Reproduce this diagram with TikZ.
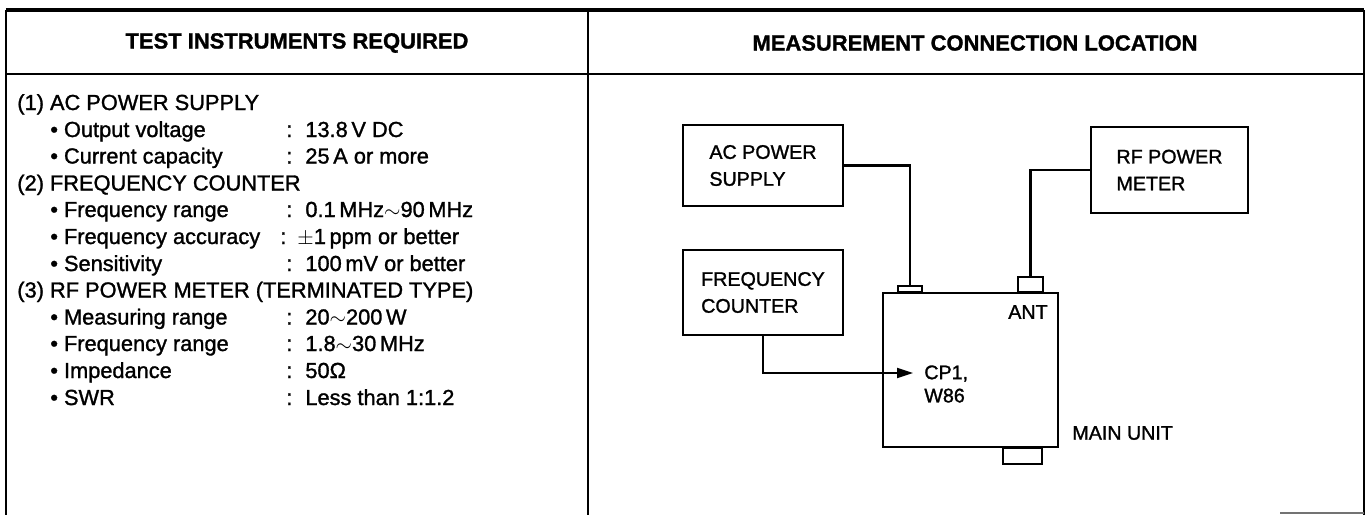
\documentclass[tikz,border=0pt]{standalone}
\usepackage{fontspec}
\setmainfont{Liberation Sans}[RawFeature={embolden=1.3}]
\usepackage{tikz}
\usetikzlibrary{positioning,calc,arrows.meta}
\tikzset{
  headtxt/.style={font=\fontsize{12.5}{15}\selectfont\bfseries},
  itemtxt/.style={anchor=base west, inner sep=0pt, font=\fontsize{12.4}{14}\selectfont},
  instbox/.style={draw, line width=1.3pt, align=left, inner sep=0pt,
                  font=\fontsize{11.2}{15.3}\selectfont},
  jackbox/.style={draw, line width=1.3pt, inner sep=0pt},
  unittxt/.style={inner sep=0pt, font=\fontsize{11.2}{13.2}\selectfont},
  wire/.style={line width=1.2pt},
}

\begin{document}
\begin{tikzpicture}
  \useasboundingbox (0,0) rectangle (27.32,-10.30);
  % table frame
  \draw[line width=2pt] (0.12,-0.20) -- (27.28,-0.20);
  \draw[line width=1.5pt] (0.12,-1.48) -- (27.28,-1.48);
  \draw[line width=1.4pt] (0.12,-0.20) -- (0.12,-10.30);
  \draw[line width=1.3pt] (11.76,-0.20) -- (11.76,-10.30);
  \draw[line width=1.3pt] (27.28,-0.20) -- (27.28,-10.30);
  \draw[line width=0.8pt, black!55] (25.60,-10.26) -- (27.28,-10.26);
  \node[headtxt] (hdleft) at (5.94,-0.86) {TEST INSTRUMENTS REQUIRED};
  \node[headtxt] (hdright) at (19.50,-0.86) {MEASUREMENT CONNECTION LOCATION};

  % (1) power supply
  \node[itemtxt] (ac) at (0.34,-2.20) {(1) AC POWER SUPPLY};
  \node[itemtxt] (acvolt) at (1.00,-2.74) {\textbullet\ Output voltage};
  \node[itemtxt] (acvoltv) at (5.72,-2.74) {:\hspace{0.26cm}13.8\,V DC};
  \node[itemtxt] (accur) at (1.00,-3.27) {\textbullet\ Current capacity};
  \node[itemtxt] (accurv) at (5.72,-3.27) {:\hspace{0.26cm}25\,A or more};
  % (2) frequency counter
  \node[itemtxt] (fc) at (0.34,-3.81) {(2) FREQUENCY COUNTER};
  \node[itemtxt] (fcrange) at (1.00,-4.34) {\textbullet\ Frequency range};
  \node[itemtxt] (fcrangev) at (5.72,-4.34) {:\hspace{0.26cm}0.1\,MHz$\sim$90\,MHz};
  \node[itemtxt] (fcacc) at (1.00,-4.88) {\textbullet\ Frequency accuracy};
  \node[itemtxt] (fcaccv) at (5.60,-4.88) {:\hspace{0.22cm}$\pm$1\,ppm or better};
  \node[itemtxt] (fcsens) at (1.00,-5.42) {\textbullet\ Sensitivity};
  \node[itemtxt] (fcsensv) at (5.72,-5.42) {:\hspace{0.26cm}100\,mV or better};
  % (3) power meter
  \node[itemtxt] (rf) at (0.34,-5.95) {(3) RF POWER METER (TERMINATED TYPE)};
  \node[itemtxt] (rfmeas) at (1.00,-6.49) {\textbullet\ Measuring range};
  \node[itemtxt] (rfmeasv) at (5.72,-6.49) {:\hspace{0.26cm}20$\sim$200\,W};
  \node[itemtxt] (rffreq) at (1.00,-7.02) {\textbullet\ Frequency range};
  \node[itemtxt] (rffreqv) at (5.72,-7.02) {:\hspace{0.26cm}1.8$\sim$30\,MHz};
  \node[itemtxt] (rfimp) at (1.00,-7.56) {\textbullet\ Impedance};
  \node[itemtxt] (rfimpv) at (5.72,-7.56) {:\hspace{0.26cm}50Ω};
  \node[itemtxt] (rfswr) at (1.00,-8.10) {\textbullet\ SWR};
  \node[itemtxt] (rfswrv) at (5.72,-8.10) {:\hspace{0.26cm}Less than 1:1.2};

  % connection diagram
  \node[instbox, minimum width=3.2cm, minimum height=1.62cm] (acps) at (15.26,-3.31)
    {AC POWER\\SUPPLY};
  \node[instbox, minimum width=3.14cm, minimum height=1.72cm] (rfpm) at (23.39,-3.40)
    {RF POWER\\METER};
  \node[instbox, minimum width=3.2cm, minimum height=1.70cm] (freqcnt) at (15.26,-5.85)
    {FREQUENCY\\COUNTER};
  \node[jackbox, minimum width=3.5cm, minimum height=3.08cm] (mainunit) at (19.41,-7.40) {};
  \node[jackbox, minimum width=0.48cm, minimum height=0.12cm, anchor=south] (dcin)
    at (18.20,-5.86) {};
  \node[jackbox, minimum width=0.50cm, minimum height=0.30cm, anchor=south] (antjack)
    at (20.61,-5.86) {};
  \node[jackbox, minimum width=0.78cm, minimum height=0.32cm, anchor=north] (botjack)
    at (20.45,-8.94) {};
  \node[unittxt, anchor=east] (antlbl) at (20.96,-6.24) {ANT};
  \node[unittxt, anchor=west, align=left] (cplbl) at (18.48,-7.68) {CP1,\\W86};
  \node[unittxt, anchor=west] (mainlbl) at (21.44,-8.66) {MAIN UNIT};
  \coordinate (cpin) at (18.26,-7.46);

  \draw[wire] (acps.east) -| (dcin.north);
  \draw[wire] (rfpm.west) -| (antjack.north);
  \draw[wire, -{Triangle[length=0.32cm, width=0.2cm]}] (freqcnt.south) |- (cpin);
\end{tikzpicture}
\end{document}
